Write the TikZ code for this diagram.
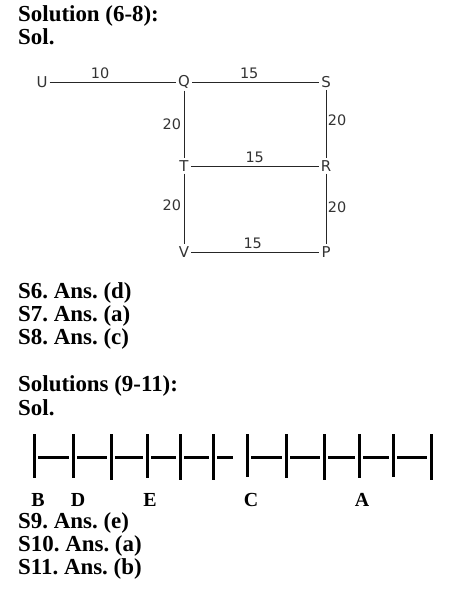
\documentclass[tikz,border=0pt]{standalone}
\usepackage{fontspec}
\setmainfont{Liberation Serif}
\newfontfamily\diagfont{DejaVu Sans}
\frenchspacing
\begin{document}
\begin{tikzpicture}[x=1bp,y=-1bp,
   head/.style={anchor=base west,inner sep=0pt,font=\fontsize{23}{27}\selectfont\bfseries},
   pt/.style={inner sep=2pt,font=\diagfont\fontsize{15}{17}\selectfont,text=black!80},
   len/.style={inner sep=2.5pt,font=\diagfont\fontsize{14.5}{16}\selectfont,text=black!80},
   road/.style={draw=black!85,line width=0.9bp},
   tick/.style={line width=3bp},
   seat/.style={inner sep=0pt,font=\fontsize{20}{24}\selectfont\bfseries}]
   \useasboundingbox (0,0) rectangle (454,599);

   % 見出し
   \node[head] (h1) at (18,22) {Solution (6-8):};
   \node[head] (h2) at (18,45) {Sol.};

   % 道順
   \node[pt] (U) at (42,82) {U};
   \node[pt] (Q) at (184,82) {Q};
   \node[pt] (S) at (326,82) {S};
   \node[pt] (T) at (184,166) {T};
   \node[pt] (R) at (326,166) {R};
   \node[pt] (V) at (184,252) {V};
   \node[pt] (P) at (326,252) {P};

   \draw[road] (U) -- node[len,above,pos=0.4] (l1) {10} (Q);
   \draw[road] (Q) -- node[len,above,pos=0.45] (l2) {15} (S);
   \draw[road] (Q) -- node[len,left,pos=0.5] (l3) {20} (T);
   \draw[road] (S) -- node[len,right,inner sep=1.5pt,pos=0.45] (l4) {20} (R);
   \draw[road] (T) -- node[len,above,pos=0.5] (l5) {15} (R);
   \draw[road] (T) -- node[len,left,pos=0.45] (l6) {20} (V);
   \draw[road] (R) -- node[len,right,inner sep=1.5pt,pos=0.47] (l7) {20} (P);
   \draw[road] (V) -- node[len,above,pos=0.48] (l8) {15} (P);

   % 答え
   \node[head] (a6) at (18,298) {S6. Ans. (d)};
   \node[head] (a7) at (18,321) {S7. Ans. (a)};
   \node[head] (a8) at (18,344) {S8. Ans. (c)};

   \node[head] (h3) at (18,391) {Solutions (9-11):};
   \node[head] (h4) at (18,415) {Sol.};

   % 座席の列
   \foreach \i/\x in {1/34,2/73,3/111,4/147,5/180,6/213,7/247,8/286,9/324,10/359,11/393,12/431}
      \coordinate (t\i) at (\x,457);
   \foreach \i/\b in {1/21,2/21,3/23,4/21,5/23,6/23,7/20,8/21,9/23,10/21,11/20,12/23}
      \draw[tick] ([yshift=23bp]t\i) -- ([yshift=-\b bp]t\i);
   \foreach \i/\j/\s in {1/2/4,2/3/4,3/4/4,4/5/4,5/6/4,6/7/14,7/8/4,8/9/4,9/10/4,10/11/4,11/12/4}
      \draw[tick,shorten <=4bp,shorten >=\s bp] (t\i) -- (t\j);

   \node[seat] (B) at ([xshift=4bp,yshift=-43bp]t1) {B};
   \node[seat] (D) at ([xshift=5bp,yshift=-43bp]t2) {D};
   \node[seat] (E) at ([xshift=3bp,yshift=-43bp]t4) {E};
   \node[seat] (C) at ([xshift=4bp,yshift=-43bp]t7) {C};
   \node[seat] (A) at ([xshift=3bp,yshift=-43bp]t10) {A};

   \node[head] (a9) at (18,528) {S9. Ans. (e)};
   \node[head] (a10) at (18,551) {S10. Ans. (a)};
   \node[head] (a11) at (18,574) {S11. Ans. (b)};
\end{tikzpicture}
\end{document}
